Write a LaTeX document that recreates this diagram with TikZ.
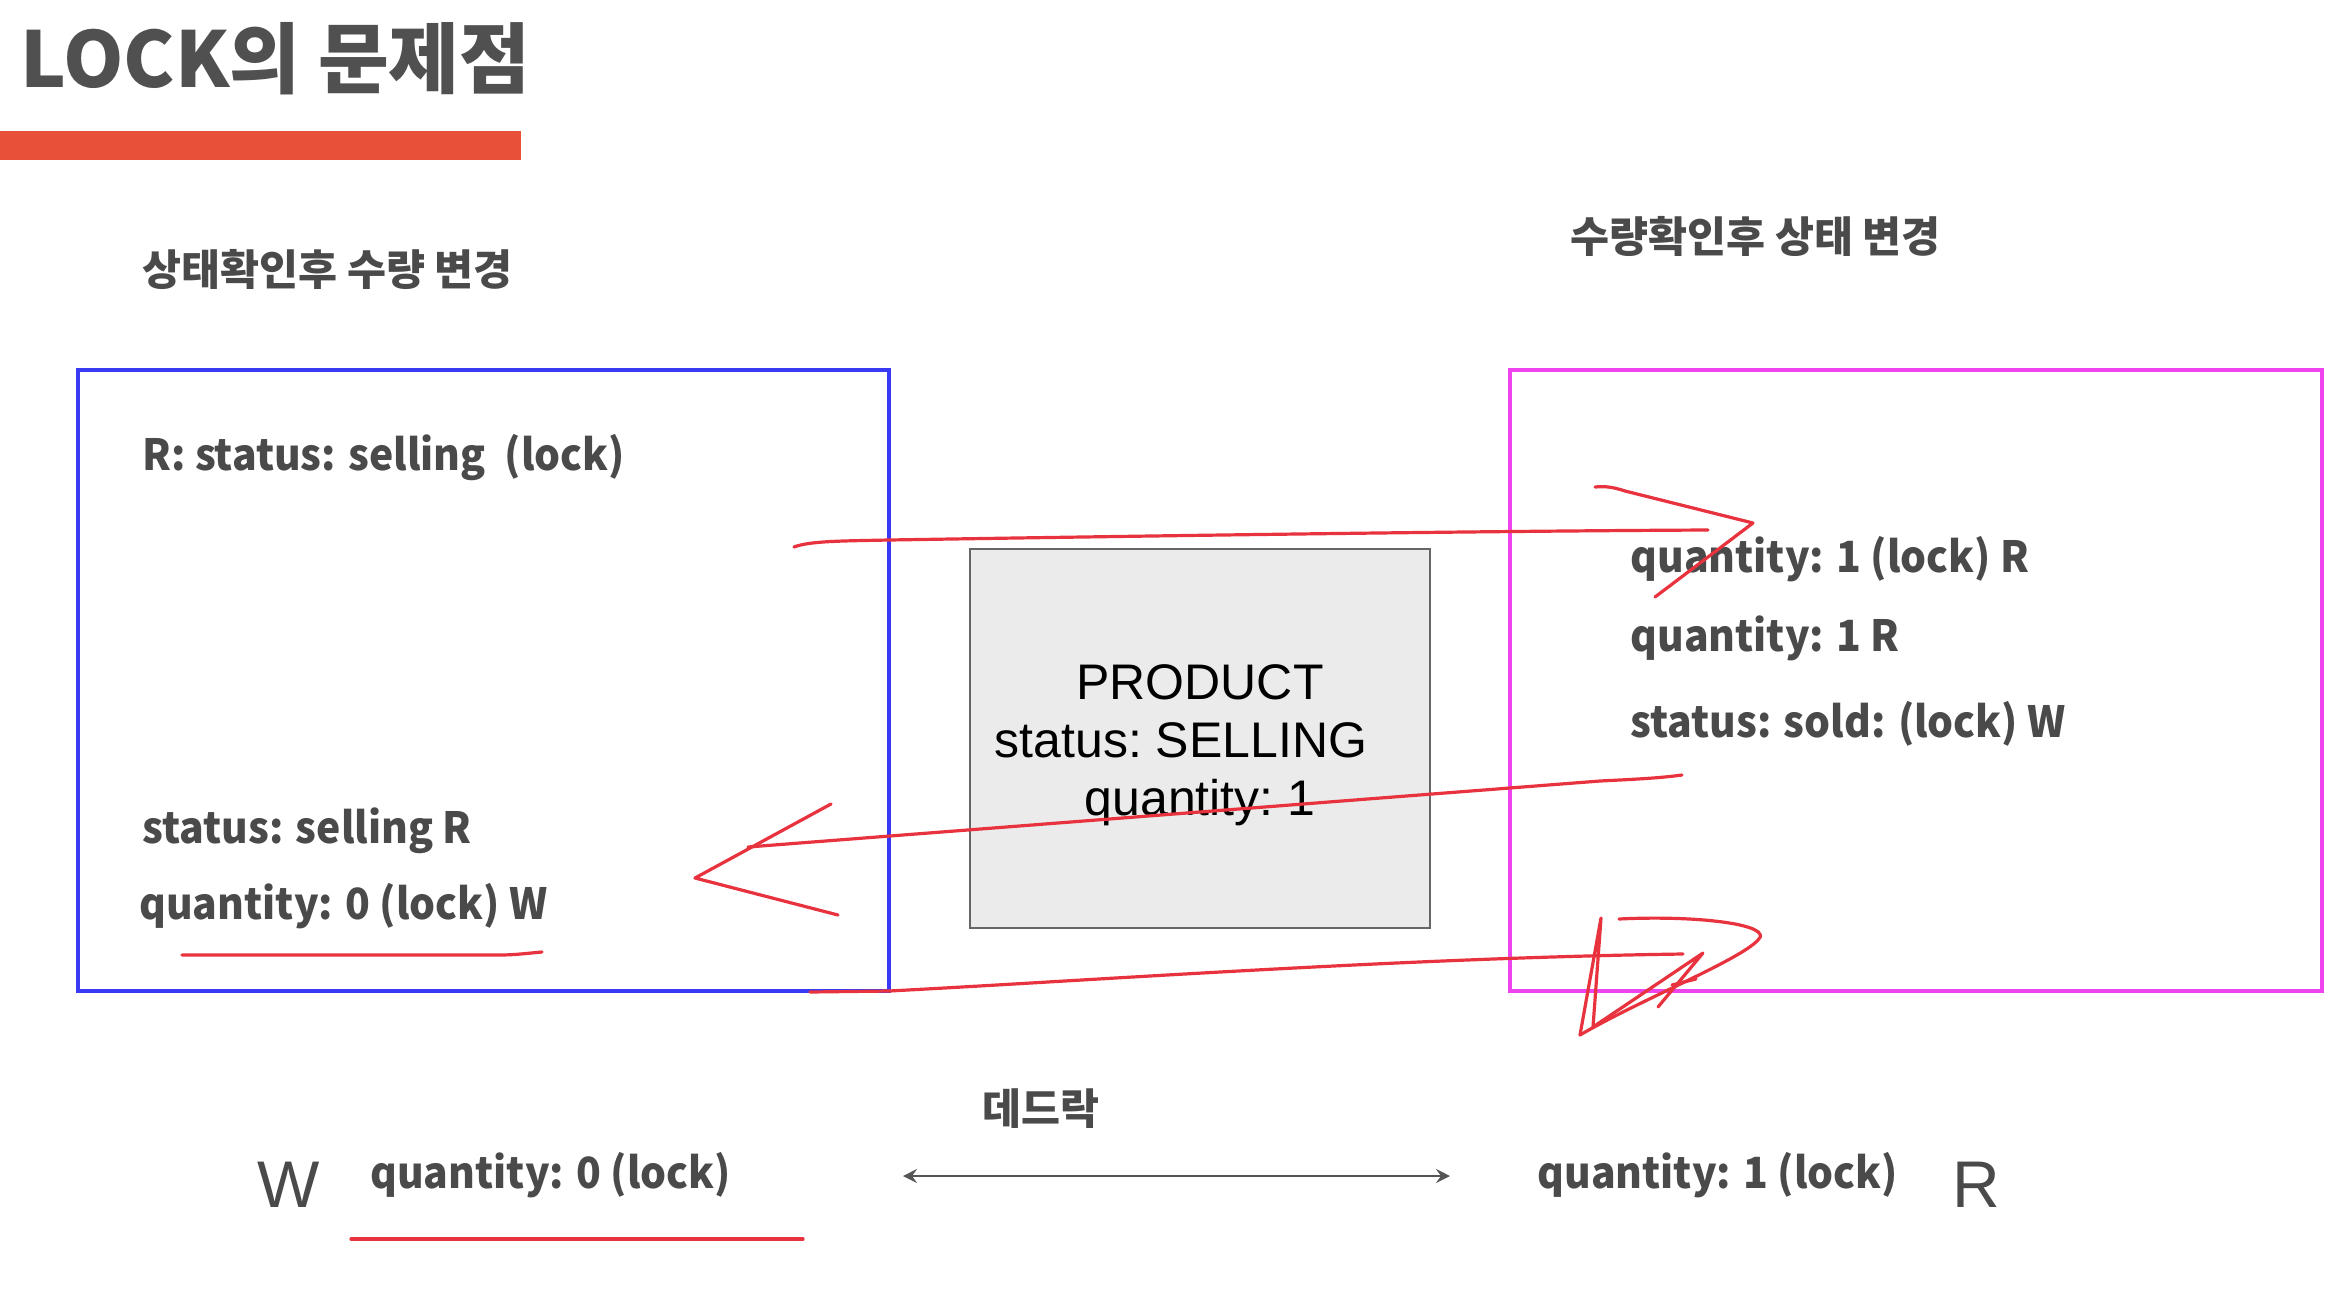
\documentclass[tikz,border=0pt]{standalone}
\usepackage{fontspec}
\usetikzlibrary{arrows.meta}
\newfontfamily\kr{Noto Sans CJK KR}
\newfontfamily\krn[FakeStretch=0.95]{Noto Sans CJK KR}
\newfontfamily\arl{Liberation Sans}
\definecolor{txt}{HTML}{4A4A4A}
\definecolor{titlec}{HTML}{505050}
\definecolor{barred}{HTML}{E8503A}
\definecolor{inkred}{HTML}{E8333F}
\definecolor{boxblue}{HTML}{3A3AF5}
\definecolor{boxmag}{HTML}{EE44EE}
\definecolor{prodfill}{HTML}{EBEBEB}
\definecolor{prodline}{HTML}{666666}
\definecolor{arrowc}{HTML}{555555}
\tikzset{
  lbl/.style={font=\krn\bfseries\fontsize{21.5}{26}\selectfont, text=txt, anchor=base west, inner sep=0pt},
  headlbl/.style={font=\kr\bfseries\fontsize{21.2}{25}\selectfont, text=txt, anchor=west, inner sep=0pt},
  biglet/.style={font=\arl\fontsize{33}{38}\selectfont, text=txt, anchor=base west, inner sep=0pt},
  ink/.style={draw=inkred, line width=1.6pt, line cap=round, line join=round},
  regionbox/.style={line width=1.6pt, fill=none, inner sep=0pt},
  prodbox/.style={draw=prodline, fill=prodfill, line width=1.4pt, inner sep=0pt},
  prodtext/.style={font=\arl\frenchspacing\fontsize{25}{29}\selectfont, align=center, text=black, inner sep=0pt},
}
\begin{document}
\begin{tikzpicture}[x=0.5pt,y=-0.5pt]
\useasboundingbox[fill=white] (0,0) rectangle (2340,1302);

% title
\node[font=\kr\bfseries\fontsize{38.5}{44}\selectfont, text=titlec, anchor=base west, inner sep=0pt] (title) at (20,87) {LOCK의 문제점};
\fill[barred] (0,131) rectangle (521,160);

% headings
\node[headlbl] (hl) at (142,269) {상태확인후 수량 변경};
\node[headlbl] (hr) at (1570,236) {수량확인후 상태 변경};

% boxes
\node[regionbox, draw=boxblue, minimum width=405.5pt, minimum height=310.5pt] (L) at (483.5,680.5) {};
\node[regionbox, draw=boxmag, minimum width=406pt, minimum height=310.5pt] (Rb) at (1916,680.5) {};
\node[prodbox, minimum width=230pt, minimum height=189.5pt] (P) at (1200,738.5) {};
\node[prodtext] (Ptext) at (1200,745) {PRODUCT\\status: SELLING\rule{19pt}{0pt}\\quantity: 1};

% left box texts
\node[lbl] (l1) at (142,470) {R: status: selling\ \ (lock)};
\node[lbl] (l2) at (142,843) {status: selling R};
\node[lbl] (l3) at (139,919) {quantity: 0 (lock) W};

% right box texts
\node[lbl] (r1) at (1630,572) {quantity: 1 (lock) R};
\node[lbl] (r2) at (1630,651) {quantity: 1 R};
\node[lbl] (r3) at (1630,737) {status: sold: (lock) W};

% bottom
\node[biglet] (bw) at (257,1207) {W};
\node[lbl] (b1) at (370,1188) {quantity: 0 (lock)};
\node[headlbl] (dl) at (982,1109) {데드락};
\node[lbl] (b2) at (1537,1188) {quantity: 1 (lock)};
\node[biglet] (br) at (1952,1207) {R};
\coordinate (da) at (903,1176);
\coordinate (db) at (1450,1176);
\draw[arrowc, line width=1.3pt, {Stealth[length=7pt,width=7pt,inset=2.5pt]}-{Stealth[length=7pt,width=7pt,inset=2.5pt]}] (da) -- (db);

% red hand-drawn annotations
% top arrow
\coordinate (t0) at (794,547);
\coordinate (t1) at (1708,530);
\draw[ink] (t0) .. controls (810,541) and (840,541) .. (889,540) .. controls (1200,535) and (1500,531) .. (t1);
\draw[ink] (1595,487) .. controls (1605,486) and (1613,487) .. (1625,491) -- (1753,523) -- (1655,597);

% middle arrow
\coordinate (m0) at (1682,775);
\coordinate (m1) at (748,847);
\draw[ink] (m0) .. controls (1660,778) and (1640,779) .. (1600,781) -- (m1);
\draw[ink] (831,804) -- (695,878) -- (838,915);

% bottom arrow
\coordinate (b0) at (810,992);
\coordinate (bend) at (1683,954);
\draw[ink] (b0) -- (889,991) .. controls (1100,980) and (1400,958) .. (bend);
\draw[ink] (1580,1035) -- (1601,918) -- (1593,1027) -- (1703,953) -- (1658,1007);
\draw[ink] (1619,919) .. controls (1700,915) and (1775,925) .. (1758,940) .. controls (1740,960) and (1640,1000) .. (1580,1035);
\draw[ink] (1672,985) -- (1696,979);

% underlines
\draw[ink] (182,955) -- (500,955) .. controls (515,955) and (530,953) .. (542,952);
\draw[ink] (351,1239) -- (803,1239);
\end{tikzpicture}
\end{document}
